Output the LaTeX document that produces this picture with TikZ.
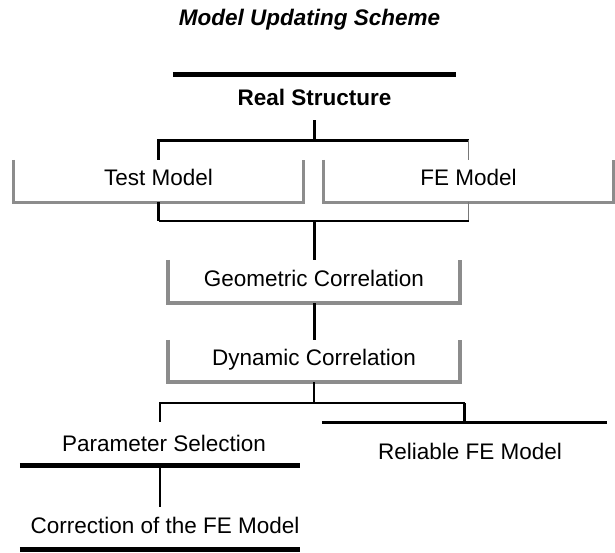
\documentclass[tikz,border=0pt]{standalone}
\usepackage{fontspec}
\setmainfont{Liberation Sans}
\definecolor{brk}{RGB}{140,140,140}
\definecolor{lnk}{RGB}{120,120,120}
\begin{document}
\begin{tikzpicture}[x=1pt,y=-1pt,
  txt/.style={font=\fontsize{22.5pt}{27pt}\selectfont, inner sep=0pt, text height=16.5pt},
  brkt/.style={draw=brk, line width=3pt, line join=miter},
  brktw/.style={draw=brk, line width=4pt, line join=miter},
  heavy/.style={line width=3pt},
  bar/.style={line width=5pt},
  thinblk/.style={line width=1.2pt},
  thingry/.style={line width=1.2pt, draw=lnk}]
\useasboundingbox (0,0) rectangle (615,552);

\node[txt, font=\fontsize{22.5pt}{27pt}\selectfont\bfseries\itshape] (title) at (309.5,20) {Model Updating Scheme};

\node[txt, font=\fontsize{22.5pt}{27pt}\selectfont\bfseries, text depth=0pt, minimum width=283pt, minimum height=45pt] (rs) at (314.5,97.5) {Real Structure};
\draw[bar] (rs.north west) -- (rs.north east);

\coordinate (j1) at (313.5,140);
\coordinate (j2) at (313.5,221);
\coordinate (j3) at (314,403);

\node[txt, text depth=8pt, minimum width=289pt, minimum height=42pt] (tm) at (158.5,181) {Test Model};
\node[txt, text depth=8pt, minimum width=289pt, minimum height=42pt] (fe) at (468.5,181) {FE Model};
\draw[brkt] (tm.north west) -- (tm.south west) -- (tm.south east) -- (tm.north east);
\draw[brkt] (fe.north west) -- (fe.south west) -- (fe.south east) -- (fe.north east);

\draw[heavy] (rs.south) -- (rs.south |- j1);
\draw[heavy] (tm.north) |- (fe.north |- j1);
\draw[thingry] (fe.north) -- (fe.north |- j1);

\draw[heavy] (tm.south) -- (tm.south |- j2);
\draw[thingry] (fe.south) -- (fe.south |- j2);
\draw[thinblk] (tm.south |- j2) -- (fe.south |- j2);

\node[txt, text depth=7pt, minimum width=292pt, minimum height=43pt] (gc) at (314,281.5) {Geometric Correlation};
\node[txt, text depth=7pt, minimum width=292pt, minimum height=42pt] (dc) at (314,361) {Dynamic Correlation};
\draw[brktw] (gc.north west) -- (gc.south west) -- (gc.south east) -- (gc.north east);
\draw[brktw] (dc.north west) -- (dc.south west) -- (dc.south east) -- (dc.north east);

\draw[heavy] (gc.north |- j2) -- (gc.north);
\draw[heavy] (gc.south) -- (dc.north);
\draw[thinblk] (dc.south) -- (j3);

\node[txt, text depth=1pt, minimum width=280pt, minimum height=43pt] (ps) at (160,443.5) {\hspace{8pt}Parameter Selection};
\node[txt, text depth=0pt, minimum width=285pt, minimum height=56pt] (rf) at (464.5,451) {\hspace{11pt}Reliable FE Model};
\node[txt, text depth=5pt, minimum width=280pt, minimum height=42pt] (cf) at (160,528) {\hspace{10pt}Correction of the FE Model};

\draw[bar] (ps.south west) -- (ps.south east);
\draw[heavy] (rf.north west) -- (rf.north east);
\draw[bar] (cf.south west) -- (cf.south east);

\draw[thinblk] (ps.north) |- (rf.north |- j3);
\draw[heavy] (rf.north |- j3) -- (rf.north);
\draw[thinblk] (ps.south) -- (cf.north);
\end{tikzpicture}
\end{document}
